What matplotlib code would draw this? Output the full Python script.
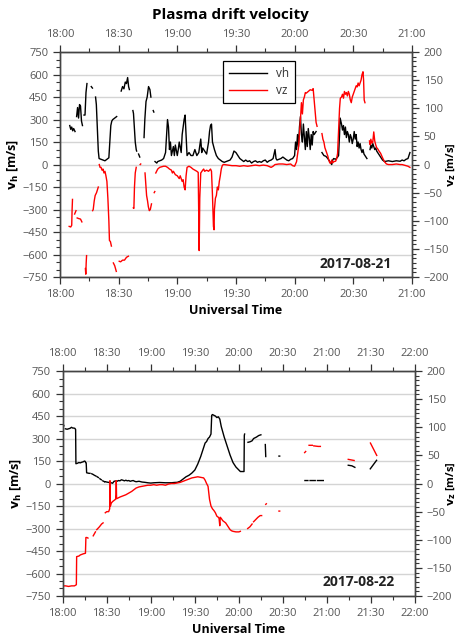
import numpy as np
import matplotlib
matplotlib.use("Agg")
import matplotlib.pyplot as plt
from matplotlib.ticker import MultipleLocator, AutoMinorLocator, FuncFormatter

nan = np.nan

# ---- 2017-08-21 (minutes after 18:00) ----
t_vh_21 = [5, 5.5, 6, 6.5, 7, 7.7, nan,
           8.5, 9, 9.5, 10, 10.5, 11, 11.5, nan,
           12.3, 12.8, 13.3, 13.8, nan,
           16.0, 16.6, nan,
           18.2, 18.6, 19.0, 19.3, 19.6, 20, 21, 22, 23, 24, 25, 25.5, 26, 26.5, 27, 28, 29, nan,
           31.3, 32, 32.7, 33.4, 34, 34.6, 35.1, 35.5, nan,
           37.3, 37.6, 38, 38.5, 39, 39.2, nan,
           40.2, 40.8, nan,
           43, 43.4, 44, 44.6, 45.3, 46, 46.5, nan,
           47.7, 48.0, nan,
           48.6, 49.5, 50, 51, 52, 53, 54, 55, 55.5, 56, 56.5, 57, 58, 58.5, 59, 60, 60.5, 61, 62,
           62.5, 63, 63.5, 64, 64.5, 65, 66, 67, 68, 69, 70, 71, 72, 72.5, 73, 74, 75, 76, 76.5,
           77, 77.5, 78, 79, 80, 81, 82, 83, 84, 85, 86, 87, 88, 89, 90, 91, 92, 93, 94, 95, 96,
           97, 98, 99, 100, 101, 102, 103, 104, 105, 106, 107, 108, 109, 110, 110.5, 111, 112,
           113, 114, 115, 116, 117, 118, 119, 120, 120.5, 121, 121.5, 122, 122.5, 123, 123.5,
           124, 124.5, 125, 125.5, 126, 126.5, 127, 127.5, 128, 128.5, 129, 129.5, 130, 130.5, 131, nan,
           134, 135, 136, 137, 138, 139, 139.5, 140, 141, 142, 142.5, 143, 143.3, 144, 144.5, 145,
           145.5, 146, 146.5, 147, 147.5, 148, 148.5, 149, 149.5, 150, 150.5, 151, 151.5, 152,
           152.5, 153, 153.5, 154, 154.5, 155, 155.5, 156, 156.5, 157, nan,
           158.6, 159, 159.5, 160, 160.5, 161, 161.5, 162, 163, 164, 165, 166, 168, 170, 172, 174,
           175, 176, 177, 178, 178.5, 179]
vh_21 = [260, 235, 250, 225, 240, 220, nan,
         320, 380, 310, 400, 390, 290, 260, nan,
         330, 330, 480, 540, nan,
         520, 510, nan,
         450, 400, 280, 180, 90, 40, 35, 30, 25, 35, 45, 150, 260, 290, 300, 310, 320, nan,
         490, 520, 505, 550, 540, 580, 520, 500, nan,
         360, 340, 250, 150, 100, 90, nan,
         70, 50, nan,
         180, 300, 420, 450, 520, 500, 450, nan,
         360, 350, nan,
         20, 10, 20, 25, 30, 40, 80, 300, 250, 100, 150, 60, 120, 60, 130, 60, 100, 150, 80,
         200, 250, 300, 330, 200, 60, 80, 60, 60, 100, 60, 80, 170, 80, 110, 90, 70, 150, 220,
         260, 270, 150, 100, 60, 40, 30, 20, 15, 20, 25, 30, 50, 90, 80, 60, 40, 30, 20, 30, 20,
         25, 10, 20, 25, 15, 20, 15, 25, 30, 15, 25, 30, 40, 100, 40, 30, 35,
         40, 50, 40, 30, 25, 35, 40, 60, 150, 100, 200, 120, 250, 320, 200,
         150, 270, 180, 100, 220, 120, 240, 180, 100, 200, 130, 220, 200, 210, 220, nan,
         80, 60, 55, 40, 20, 0, 30, 40, 35, 50, 60, 200, 310, 270, 230, 260,
         200, 250, 180, 220, 200, 150, 200, 180, 140, 170, 220, 170, 200, 120,
         150, 110, 140, 100, 80, 100, 70, 60, 50, 40, nan,
         100, 130, 110, 140, 120, 100, 110, 90, 70, 50, 30, 20, 25, 20, 25, 22,
         30, 25, 35, 40, 60, 80]

t_vz_21 = [4.7, 5.5, 6.0, 6.2, 6.4, nan,
           7.5, 8.2, nan,
           8.8, 9.5, 10.5, 11.2, nan,
           13.0, 13.2, 13.4, 13.6, nan,
           16.7, 17.0, 17.5, 18, 18.7, 19.3, 19.6, nan,
           20.1, 20.5, 21, 21.5, 22, 22.5, 23, 23.5, 24, 24.5, 25, 25.3, 25.8, 26.3, nan,
           27.3, 28, 28.8, nan,
           30.3, 31, 32, 33, 34, 35, nan,
           37.5, 37.8, 38.1, 38.5, 39, nan,
           41, 41.3, nan,
           43.5, 43.8, 44.3, 44.8, 45.2, 45.7, 46.2, 46.8, nan,
           48.2, 48.5, nan,
           49, 50, 51, 52, 53, 54, 55, 56, 57, 57.5, 58, 59, 60, 61, 61.5, 62, 62.5, 63, 63.5,
           64, 64.5, 65, 66, 67, 68, 69, 70, 70.7, 71, 71.2, 71.5, 72, 73, 73.5, 74, 75, 76, 77,
           77.5, 78, 78.5, 78.8, 79, 79.5, 80, 80.5, 81, 81.5, 82, 82.5, 83, 83.5, 84, 86, 88,
           90, 92, 94, 96, 98, 100, 102, 104, 106, 108, 109, 110, 112, 114, 116, 118, 119, 120,
           121, 122, 122.5, 123, 123.5, 124, 124.5, 125, 125.5, 126, 127, 128, 129, 129.5, 130,
           130.5, 131, 131.5, nan,
           134, 134.5, 135, 135.5, 136, 136.5, 137, 137.5, 138, 138.5, 139, 139.5, 140, 141,
           141.5, 142, 142.5, 143, 143.4, 144, 144.5, 145, 145.5, 146, 146.5, 147, 147.5, 148,
           148.5, 149, 149.5, 150, 150.5, 151, 151.5, 152, 152.5, 153, 153.5, 154, 154.5, 155,
           155.3, 155.6, 156, nan,
           158.3, 158.7, 159, 159.5, 160, 160.5, 161, 161.5, 162, 162.5, 163, 164, 165, 166, 167,
           168, 170, 172, 174, 175, 176, 177, 178, 179]
vz_21 = [-110, -111, -108, -80, -62, nan,
         -88, -82, nan,
         -95, -96, -97, -102, nan,
         -185, -195, -175, -162, nan,
         -82, -80, -65, -55, -50, -43, -40, nan,
         0, -5, -5, -10, -8, -15, -12, -20, -30, -60, -100, -135, -137, -145, nan,
         -175, -180, -190, nan,
         -172, -173, -170, -170, -165, -163, nan,
         -77, -78, -40, -15, -5, nan,
         0, 1, nan,
         -15, -30, -55, -65, -75, -82, -80, -70, nan,
         -50, -48, nan,
         -15, -8, -5, -4, -3, -3, -5, -8, -10, -15, -12, -18, -20, -25, -20, -25, -30, -27, -40,
         -45, -20, -5, -3, -5, -8, -10, -12, -14, -100, -153, -60, -15, -10, -8, -12, -10, -12, -8,
         -12, -55, -110, -116, -80, -60, -55, -40, -45, -30, -20, -8, -2, 0, 0, -1, -2,
         -2, -3, -2, -3, -2, -1, -2, -1, -2, -5, -3, 0, 1, 1, 0, 1, -2, -3,
         5, 30, 55, 80, 110, 90, 115, 120, 128, 127, 130, 133, 132, 135, 115,
         95, 75, 68, nan,
         55, 45, 40, 30, 25, 20, 15, 8, 3, 2, 8, 3, 5, 6,
         10, 20, 60, 100, 118, 120, 125, 118, 130, 125, 128, 122, 130, 125,
         115, 110, 120, 125, 130, 135, 140, 138, 145, 140, 145, 150, 160, 165,
         150, 115, 110, nan,
         42, 35, 45, 38, 40, 58, 42, 35, 30, 28, 25, 20, 12, 5, 1,
         0, 0, 1, 0, 0, -1, -2, -3, -5]

# ---- 2017-08-22 (minutes after 18:00) ----
t_vh_22 = [0.2, 0.8, nan,
           1.8, 3, 4, 5, 6, 6.8, 7.5, 8.3, 8.8, 9.0, 10, 11, 12, 13, 14, 14.8, 15.3, 15.6, 16,
           16.3, 17, 18, 18.6, nan,
           19.8, 20.8, nan, 21.6, 22.6, nan, 23.5, 24.3, nan, 25.3, 26.3, nan, 27.3, 28.5, nan,
           29, 30, 31, 32, 33, 34, 35, 36, 37, 38, 39, 40, 41, 42, 43, 44, 45, 46, 47, 48, 49, 50,
           52, 54, 56, 58, 60, 62, 64, 66, 68, 70, 72, 74, 76, 78, 80, 82, 84, 86, 88, 90, 92, 94,
           96, 97, 98, 99, 100, 101, 101.5, 102, 103, 104, 105, 106, 107, 108, 110, 112, 114, 116,
           118, 120, 121, 122, 123, 123.5, 123.7, 123.9, nan,
           126.2, 127.5, 129, 130, 131, 132, 133.5, 135, nan,
           138, 138.3, nan,
           147.3, 147.8, nan,
           165, 167, nan, 168.5, 172, nan, 173.5, 177.5, nan,
           194.5, 197, 199, nan,
           209.5, 211.5, 213.8]
vh_22 = [400, 385, nan,
         365, 362, 365, 368, 375, 370, 370, 368, 360, 132, 135, 140, 138, 142, 145, 150, 148, 140, 138,
         72, 70, 68, 68, nan,
         65, 60, nan, 55, 50, nan, 45, 40, nan, 32, 25, nan, 18, 12, nan,
         12, 10, 8, 7, 5, 2, 15, 17, 15, 20, 18, 25, 22, 18, 22, 18, 20, 15, 18, 20, 15, 12,
         15, 10, 8, 5, 3, 5, 6, 7, 6, 5, 5, 5, 7, 8, 15, 30, 45, 55, 70, 90, 130, 180,
         240, 270, 280, 300, 310, 330, 455, 460, 455, 450, 440, 445, 430, 380, 310, 250, 190, 140,
         110, 90, 80, 80, 80, 80, 320, 330, nan,
         275, 278, 285, 300, 305, 310, 320, 325, nan,
         260, 180, nan,
         183, 183, nan,
         20, 20, nan, 20, 20, nan, 20, 20, nan,
         122, 118, 108, nan,
         98, 125, 155]

t_vz_22 = [0.3, 2, 4, 6, 8, 9.3, 9.5, 11, 12, 13, 14, 15.5, 15.8, 16.5, 17.2, nan,
           20.8, 22.3, nan, 23.2, 25, 26.5, 27.5, nan,
           29, 30, 31.3, 32, 32.2, 32.5, 33, 34, 35, 36, 36.3, 36.5, 36.7, 37.5, 39, 41, 43, 45,
           47, 49, 50, 52, 54, 56, 58, 60, 62, 64, 66, 68, 70, 72, 74, 76, 78, 80, 82, 84, 86, 88,
           90, 92, 94, 96, 97, 98, 99, 100, 101, 102, 103, 104, 105, 106, 106.5, 107, 107.3, 108,
           109, 110, 111, 112, 113, 114, 115, 116, 118, 120, 121, nan,
           126, 127.5, 129, nan, 130, 131.5, 133, 134.5, 135.5, nan,
           138.3, 138.7, nan,
           147.3, 147.8, nan,
           164.8, 165.5, nan, 167.8, 170, nan, 171, 174, 175.5, nan,
           194.5, 198.5, nan,
           209.6, 213.9]
vz_22 = [-182, -182, -183, -182, -182, -180, -130, -129, -127, -126, -125, -124, -96, -96, -97, nan,
         -93, -86, nan, -82, -77, -72, -70, nan,
         -52, -50, -50, -45, 5, -40, -35, -32, -30, -28, -20, 5, -27, -26, -24, -22, -20, -17,
         -14, -10, -8, -6, -5, -4, -3, -3, -2, -3, -2, -2, -3, -1, 0, 0, 1, 2, 4, 6, 8, 10,
         11, 12, 11, 10, 6, 0, -5, -28, -40, -45, -48, -52, -58, -60, -62, -75, -60, -62,
         -66, -68, -70, -74, -78, -82, -84, -85, -86, -86, -85, nan,
         -80, -77, -72, nan, -68, -64, -60, -57, -57, nan,
         -37, -36, nan,
         -49, -49, nan,
         55, 57, nan, 68, 68, nan, 67, 66, 66, nan,
         43, 41, nan,
         72, 50]

date_labels = ["2017-08-21", "2017-08-22"]
hour_spans = [(0, 180), (0, 240)]

GREY = "#555555"
GRID = "#d4d4d4"


def fmt_time(m, pos):
    m = int(round(m))
    return f"{18 + m // 60}:{m % 60:02d}"


def fmt_val(v, pos):
    return f"{int(v)}".replace("-", "\u2212")


def draw_panel(rect, t_h, v_h, t_z, v_z, date, span, legend=False):
    ax = fig.add_axes(rect)
    ax2 = ax.twinx()

    ax.set_xlim(*span)
    ax.set_ylim(-750, 750)
    ax2.set_ylim(-200, 200)

    ax.yaxis.set_major_locator(MultipleLocator(150))
    ax.yaxis.set_minor_locator(AutoMinorLocator(3))
    ax2.yaxis.set_major_locator(MultipleLocator(50))
    ax2.yaxis.set_minor_locator(AutoMinorLocator(6))
    ax.xaxis.set_major_locator(MultipleLocator(30))
    ax.xaxis.set_minor_locator(MultipleLocator(15))
    ax.xaxis.set_major_formatter(FuncFormatter(fmt_time))
    ax.yaxis.set_major_formatter(FuncFormatter(fmt_val))
    ax2.yaxis.set_major_formatter(FuncFormatter(fmt_val))

    ax.grid(axis="y", color=GRID, lw=1.0)
    ax.set_axisbelow(True)

    for a in (ax, ax2):
        a.tick_params(which="both", direction="out", colors="#333333", labelcolor=GREY, labelsize=8)
        a.tick_params(which="major", length=5, width=0.9)
        a.tick_params(which="minor", length=3, width=0.8)
        for s in a.spines.values():
            s.set_color("#444444")
            s.set_linewidth(1.0)
    ax.tick_params(axis="x", which="both", top=True, labeltop=True, bottom=True, labelbottom=True)

    l1, = ax.plot(t_h, v_h, color="black", lw=1.0, label="vh")
    l2, = ax2.plot(t_z, v_z, color="#ff0000", lw=1.0, label="vz")

    ax.set_ylabel(r"$\mathbf{v_h}$ [m/s]", fontsize=9, fontweight="bold", labelpad=2)
    ax2.set_ylabel(r"$\mathbf{v_z}$ [m/s]", fontsize=8, fontweight="bold")
    # keep the right label inside the 460 px canvas
    x_px = 444
    left_px = rect[0] * 460
    width_px = rect[2] * 460
    ax2.yaxis.set_label_coords((x_px - left_px) / width_px, 0.5)
    ax.set_xlabel("Universal Time", fontsize=9, fontweight="bold", labelpad=3)

    ax.text(0.84, 0.06, date, transform=ax.transAxes, ha="center", va="center",
            fontsize=10, fontweight="bold", color="#222222")

    if legend:
        leg = ax.legend(handles=[l1, l2], loc="upper left", bbox_to_anchor=(0.447, 0.985),
                        fancybox=False, framealpha=1, edgecolor="black", fontsize=8.5,
                        handlelength=3.2, borderpad=0.5, labelspacing=0.3)
        leg.get_frame().set_linewidth(0.9)
        for txt in leg.get_texts():
            txt.set_color("#333333")
    return ax


fig = plt.figure(figsize=(4.6, 6.39), dpi=100)
plt.rcParams["font.family"] = ["Open Sans", "DejaVu Sans"]

fig.suptitle("Plasma drift velocity", y=0.988, fontsize=11, fontweight="bold")

draw_panel([0.1304, 0.5665, 0.765, 0.352], t_vh_21, vh_21, t_vz_21, vz_21,
           date_labels[0], hour_spans[0], legend=True)
draw_panel([0.1363, 0.0673, 0.766, 0.352], t_vh_22, vh_22, t_vz_22, vz_22,
           date_labels[1], hour_spans[1])

fig.savefig("out.png", dpi=100)
plt.close(fig)
